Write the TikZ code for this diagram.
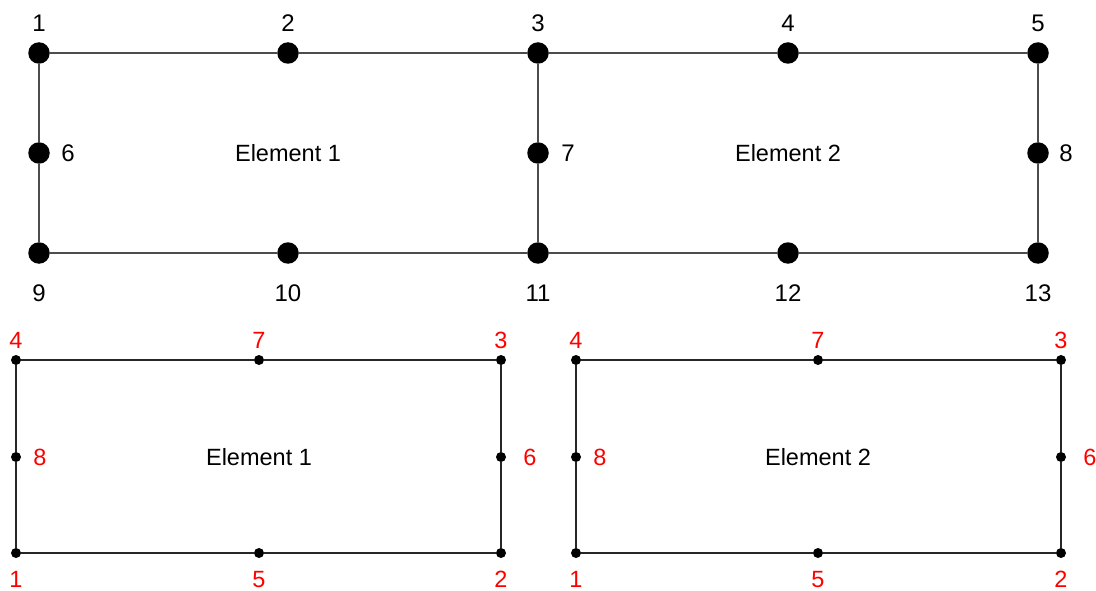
\documentclass[tikz,border=0pt]{standalone}
\usepackage{fontspec}
\setmainfont{Liberation Sans}
\begin{document}
\begin{tikzpicture}[x=1pt,y=-1pt,
  bigdot/.style={circle,fill=black,inner sep=0pt,minimum size=21.5pt},
  smalldot/.style={circle,fill=black,inner sep=0pt,minimum size=10pt},
  edge/.style={draw=black!70,line width=1.1pt},
  sedge/.style={draw=black!85,line width=1.1pt},
  num/.style={inner sep=0pt,anchor=base,font=\fontsize{24}{24}\selectfont},
  rnum/.style={inner sep=0pt,anchor=base,text=red,font=\fontsize{23.5}{23.5}\selectfont},
  elab/.style={inner sep=0pt,anchor=base,font=\fontsize{23.5}{23.5}\selectfont}]
\useasboundingbox (0,0) rectangle (1096,591);
% top mesh nodes
\node[bigdot] (n1) at (39,53) {};
\node[bigdot] (n2) at (288,53) {};
\node[bigdot] (n3) at (538,53) {};
\node[bigdot] (n4) at (788,53) {};
\node[bigdot] (n5) at (1038,53) {};
\node[bigdot] (n6) at (39,153) {};
\node[bigdot] (n7) at (538,153) {};
\node[bigdot] (n8) at (1038,153) {};
\node[bigdot] (n9) at (39,253) {};
\node[bigdot] (n10) at (288,253) {};
\node[bigdot] (n11) at (538,253) {};
\node[bigdot] (n12) at (788,253) {};
\node[bigdot] (n13) at (1038,253) {};
\path[edge] (n1) -- (n2) (n2) -- (n3) (n3) -- (n4) (n4) -- (n5)
  (n9) -- (n10) (n10) -- (n11) (n11) -- (n12) (n12) -- (n13)
  (n1) -- (n6) (n6) -- (n9) (n3) -- (n7) (n7) -- (n11) (n5) -- (n8) (n8) -- (n13);
\node[num] (l1) at (39,31.5) {1};
\node[num] (l2) at (288,31.5) {2};
\node[num] (l3) at (538,31.5) {3};
\node[num] (l4) at (788,31.5) {4};
\node[num] (l5) at (1038,31.5) {5};
\node[num] (l6) at (68,161.5) {6};
\node[num] (l7) at (568,161.5) {7};
\node[num] (l8) at (1066,161.5) {8};
\node[num] (l9) at (39,301.5) {9};
\node[num] (l10) at (288,301.5) {10};
\node[num] (l11) at (538,301.5) {11};
\node[num] (l12) at (788,301.5) {12};
\node[num] (l13) at (1038,301.5) {13};
\node[elab] (e1) at (288,161.5) {Element 1};
\node[elab] (e2) at (788,161.5) {Element 2};
% bottom left element
\node[smalldot] (a1) at (16,553) {};
\node[smalldot] (a2) at (501,553) {};
\node[smalldot] (a3) at (501,360) {};
\node[smalldot] (a4) at (16,360) {};
\node[smalldot] (a5) at (259,553) {};
\node[smalldot] (a6) at (501,457) {};
\node[smalldot] (a7) at (259,360) {};
\node[smalldot] (a8) at (16,457) {};
\path[sedge] (a1) -- (a5) (a5) -- (a2) (a2) -- (a6) (a6) -- (a3) (a3) -- (a7) (a7) -- (a4) (a4) -- (a8) (a8) -- (a1);
\node[rnum] (al1) at (16,587.5) {1};
\node[rnum] (al2) at (501,587.5) {2};
\node[rnum] (al3) at (501,348.5) {3};
\node[rnum] (al4) at (16,348.5) {4};
\node[rnum] (al5) at (259,587.5) {5};
\node[rnum] (al6) at (530,465) {6};
\node[rnum] (al7) at (259,348.5) {7};
\node[rnum] (al8) at (40,465) {8};
\node[elab] (ea) at (259,465) {Element 1};
% bottom right element
\node[smalldot] (b1) at (576,553) {};
\node[smalldot] (b2) at (1061,553) {};
\node[smalldot] (b3) at (1061,360) {};
\node[smalldot] (b4) at (576,360) {};
\node[smalldot] (b5) at (818,553) {};
\node[smalldot] (b6) at (1061,457) {};
\node[smalldot] (b7) at (818,360) {};
\node[smalldot] (b8) at (576,457) {};
\path[sedge] (b1) -- (b5) (b5) -- (b2) (b2) -- (b6) (b6) -- (b3) (b3) -- (b7) (b7) -- (b4) (b4) -- (b8) (b8) -- (b1);
\node[rnum] (bl1) at (576,587.5) {1};
\node[rnum] (bl2) at (1061,587.5) {2};
\node[rnum] (bl3) at (1061,348.5) {3};
\node[rnum] (bl4) at (576,348.5) {4};
\node[rnum] (bl5) at (818,587.5) {5};
\node[rnum] (bl6) at (1090,465) {6};
\node[rnum] (bl7) at (818,348.5) {7};
\node[rnum] (bl8) at (600,465) {8};
\node[elab] (eb) at (818,465) {Element 2};
\end{tikzpicture}
\end{document}
